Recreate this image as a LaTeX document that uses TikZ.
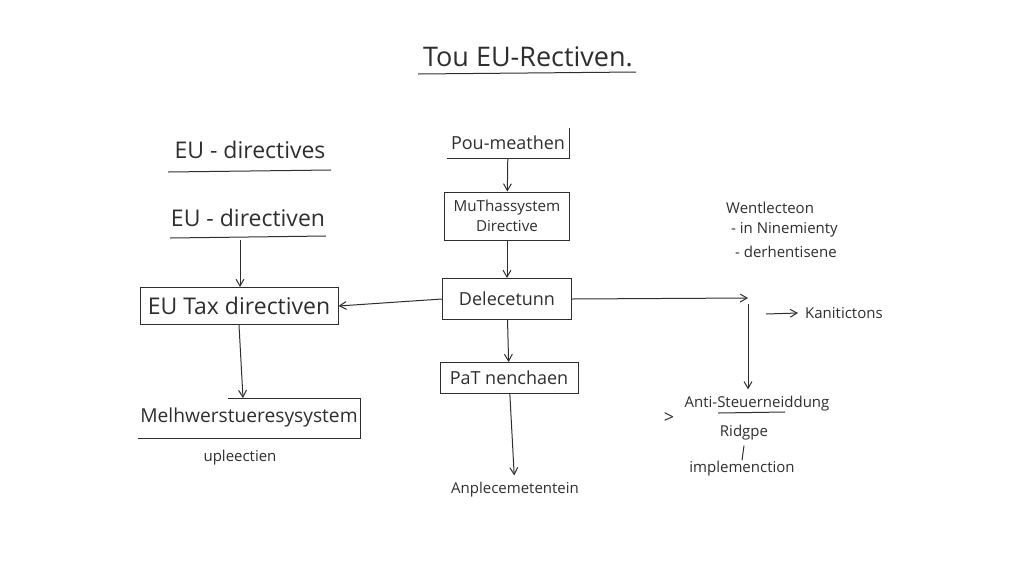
\documentclass[tikz,border=0pt]{standalone}
\usepackage{fontspec}
\setmainfont{Open Sans}
\usepackage{tikz}
\usetikzlibrary{arrows}
\usetikzlibrary{positioning}
\definecolor{ink}{HTML}{2E2E2E}

\tikzset{
  box/.style={draw, inner sep=0pt, align=center},
  big/.style={font=\fontsize{11.5}{13}\selectfont},
  mid/.style={font=\fontsize{9}{11}\selectfont},
  small/.style={font=\fontsize{7.5}{9}\selectfont}
}

\begin{document}
\begin{tikzpicture}[x=0.5pt, y=-0.5pt, >=angle 60, line width=.5pt, draw=ink, text=ink]
    \useasboundingbox (0,0) rectangle (1024,585);
    % title
    \node[font=\fontsize{13.5}{15}\selectfont] (title) at (528,57) {Tou EU-Rectiven.};
    \draw (418,74) -- (636,72);
    % left column
    \node[big] (dirs) at (250,150) {EU - directives};
    \draw (168,172) -- (331,170);
    \node[big] (dirn) at (248,218) {EU - directiven};
    \draw (170,238) -- (326,236);
    \node[box, big, minimum width=99pt, minimum height=18.5pt] (eutax) at (239,306) {EU Tax directiven};
    \node[font=\fontsize{9.6}{11}\selectfont, minimum width=111pt, minimum height=19.5pt, inner sep=0pt] (melh) at (249,418) {Melhwerstueresysystem};
    \draw ([xshift=-10.5pt]melh.north) -- (melh.north east) -- (melh.south east) -- (melh.south west);
    \node[small] (uple) at (240,458) {upleectien};
    \draw[arrows=->] (240,240) -- (eutax.north -| 240,0);
    \draw[arrows=->] (eutax.south) -- ([xshift=-3pt]melh.north);
    % middle column
    \node[mid, minimum width=61pt, minimum height=15pt, inner sep=0pt] (pou) at (508,143) {Pou-meathen};
    \draw (pou.south west) -- (pou.south east) -- (pou.north east);
    \node[box, font=\fontsize{7.6}{10}\selectfont, minimum width=62.5pt, minimum height=24pt] (multi) at (507,216) {MuThassystem\\Directive};
    \node[box, mid, minimum width=64.5pt, minimum height=20.5pt] (dele) at (507,299) {Delecetunn};
    \node[box, mid, minimum width=69pt, minimum height=15.5pt] (pat) at (509,378) {PaT nenchaen};
    \node[small] (anple) at (515,490) {Anplecemetentein};
    \draw[arrows=->] (pou) -- (multi);
    \draw[arrows=->] (multi) -- (dele);
    \draw[arrows=->] (dele) -- (pat);
    \draw[arrows=->] (pat) -- (anple);
    \draw[arrows=->] (dele.west) -- (eutax.east);
    % right column
    \node[small, anchor=west] (went) at (719,208) {Wentlecteon};
    \node[small, anchor=west] (nine) at (724,230) {- in Ninemienty};
    \node[small, anchor=west] (derh) at (728,252) {- derhentisene};
    \coordinate (turn) at (748,298);
    \draw[arrows=->] (dele.east) -- (turn);
    \node[small, anchor=west] (kani) at (798,313) {Kanitictons};
    \coordinate (kstart) at (766,314);
    \draw[arrows=->] (kstart) -- (kani.west);
    \node[small] (anti) at (757,404) {Anti-Steuerneiddung};
    \draw[arrows=->] ([yshift=-3pt]turn) -- (turn |- anti.north);
    \node[font=\fontsize{9}{10}\selectfont] (gt) at (669,418) {>};
    \draw (718,413) -- (785,412);
    \node[small] (ridg) at (744,433) {Ridgpe};
    \node[small] (impl) at (742,469) {implemenction};
    \draw ([yshift=1pt]ridg.south) -- ([yshift=-3pt]impl.north);
\end{tikzpicture}
\end{document}
